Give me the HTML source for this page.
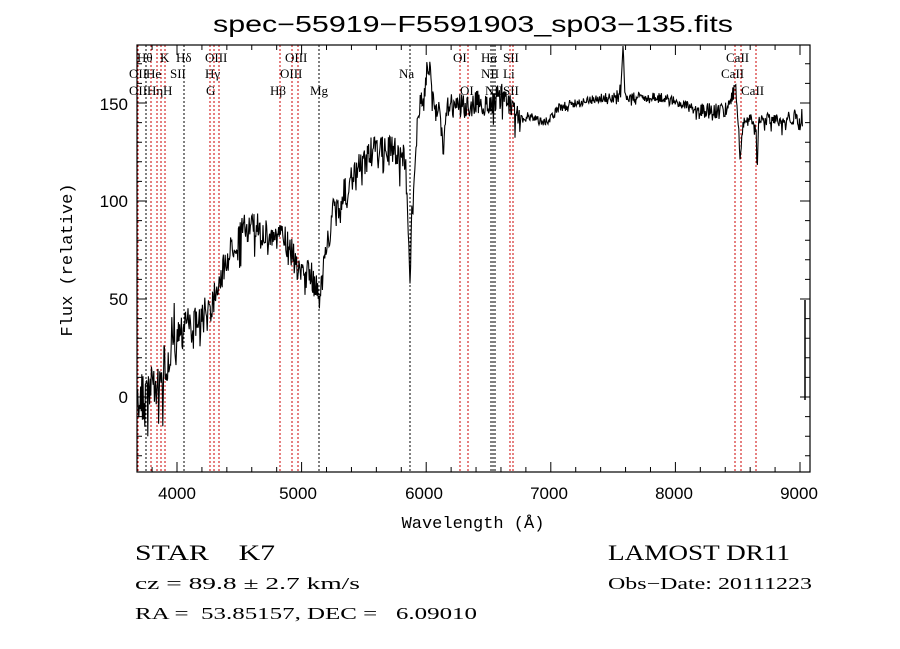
<!DOCTYPE html>
<html><head><meta charset="utf-8"><style>
html,body{margin:0;padding:0;background:#fff;width:900px;height:649px;overflow:hidden}
svg{display:block}
text{font-family:"Liberation Sans",sans-serif;fill:#000}
text.m{font-family:"Liberation Mono",monospace}
.l text{font-family:"Liberation Serif",serif;font-size:13px}
text.sf{font-family:"Liberation Serif",serif;white-space:pre}
</style></head><body>
<svg id="s" width="900" height="649" viewBox="0 0 900 649" xmlns="http://www.w3.org/2000/svg" xml:space="preserve">
<text x="473" y="32" font-size="23" text-anchor="middle" textLength="520" lengthAdjust="spacingAndGlyphs">spec−55919−F5591903_sp03−135.fits</text>
<g id="lines"></g>
<path id="spec" fill="none" stroke="#000" stroke-width="1.1"></path>
<path d="M805 300V400" stroke="#000" stroke-width="1.5"/>
<rect x="137" y="45" width="673" height="427" fill="none" stroke="#000" stroke-width="1.2"/>
<g id="ticks" stroke="#000" stroke-width="1"></g>
<g font-size="17" text-anchor="middle">
<text x="177" y="499">4000</text><text x="298" y="499">5000</text><text x="424" y="499">6000</text><text x="549" y="499">7000</text><text x="674" y="499">8000</text><text x="799" y="499">9000</text>
</g>
<g font-size="17" text-anchor="end">
<text x="128" y="403">0</text><text x="128" y="305">50</text><text x="128" y="207">100</text><text x="128" y="110">150</text>
</g>
<text class="m" x="473" y="528" font-size="17" text-anchor="middle">Wavelength (Å)</text>
<text class="m" x="72" y="260" font-size="17" text-anchor="middle" transform="rotate(-90 72 260)">Flux (relative)</text>
<g class="l">
<text x="137" y="62">Hθ</text><text x="160" y="62">K</text><text x="176" y="62">Hδ</text><text x="205" y="62">OIII</text><text x="285" y="62">OIII</text>
<text x="129" y="78">OII</text><text x="146" y="78">He</text><text x="170" y="78">SII</text><text x="205" y="78">Hγ</text><text x="280" y="78">OIII</text>
<text x="129" y="95">OII</text><text x="147" y="95">Hη</text><text x="163" y="95">H</text><text x="206" y="95">G</text><text x="270" y="95">Hβ</text><text x="310" y="95">Mg</text>
<text x="399" y="78">Na</text><text x="453" y="62">OI</text><text x="460" y="95">OI</text>
<text x="481" y="62">Hα</text><text x="503" y="62">SII</text><text x="481" y="78">NII</text><text x="503" y="78">Li</text><text x="485" y="95">NII</text><text x="503" y="95">SII</text>
<text x="726" y="62">CaII</text><text x="721" y="78">CaII</text><text x="741" y="95">CaII</text>
</g>
<text class="sf" x="135" y="560" font-size="22" textLength="140" lengthAdjust="spacingAndGlyphs">STAR    K7</text>
<text class="sf" x="608" y="560" font-size="22" textLength="182" lengthAdjust="spacingAndGlyphs">LAMOST DR11</text>
<text class="sf" x="135" y="589" font-size="17" textLength="225" lengthAdjust="spacingAndGlyphs">cz = 89.8 ± 2.7 km/s</text>
<text class="sf" x="608" y="589" font-size="17" textLength="204" lengthAdjust="spacingAndGlyphs">Obs−Date: 20111223</text>
<text class="sf" x="135" y="619" font-size="17" textLength="342" lengthAdjust="spacingAndGlyphs">RA =  53.85157, DEC =   6.09010</text>
</svg>
<script>
(function(){
var NS="http://www.w3.org/2000/svg";
function X(l){return 177+(l-4000)*0.1246;}
function Y(v){return 397-v*1.96;}
var t=document.getElementById("ticks"),d="";
for(var l=3800;l<=9000;l+=200){var x=X(l),maj=l%1000==0?10:5;if(x<137||x>810)continue;
d+="M"+x+" 472v-"+maj+"M"+x+" 45v"+maj;}
for(var v=-30;v<=180;v+=10){var y=Y(v),maj=v%50==0?10:5;if(y<45||y>472)continue;
d+="M137 "+y+"h"+maj+"M810 "+y+"h-"+maj;}
var p=document.createElementNS(NS,"path");p.setAttribute("d",d);t.appendChild(p);
var g=document.getElementById("lines");
var L=[[138,1],[146,0],[151,1],[157,1],[161,1],[165,1],[184,0],[210,1],[214,1],[219,1],[280,1],[292,1],[298,1],[319,0],[410,0],[460,1],[468,1],[491,0],[493,0],[495,0],[510,1],[513,1],[735,1],[741,1],[756,1]];
L.forEach(function(a){var q=document.createElementNS(NS,"line");q.setAttribute("x1",a[0]);q.setAttribute("x2",a[0]);q.setAttribute("y1",45);q.setAttribute("y2",472);
q.setAttribute("stroke",a[1]?"#c00":"#000");q.setAttribute("stroke-width","1");q.setAttribute("stroke-dasharray","2,2");g.appendChild(q);});
var K=[[137,420],[150,400],[165,385],[172,345],[185,330],[200,330],[212,305],[222,280],[232,255],[245,235],[258,235],[270,245],[285,245],[298,275],[312,285],[319,300],[323,280],[333,220],[345,200],[358,178],[370,160],[395,158],[405,165],[408,220],[410,290],[412,215],[418,120],[424,105],[428,70],[432,95],[438,115],[443,150],[446,110],[455,115],[470,110],[490,110],[505,100],[515,118],[530,120],[545,125],[560,110],[580,105],[600,100],[615,100],[621,90],[623,45],[625,100],[640,100],[660,100],[680,105],[700,115],[720,115],[730,110],[735,85],[738,120],[740,170],[743,125],[750,125],[756,130],[757,170],[759,125],[770,125],[785,122],[797,120],[800,130],[802,115],[803,110]];
var s=7;function r(){s=(s*16807)%2147483647;return s/2147483647-0.5;}
function base(x){for(var i=0;i<K.length-1;i++){if(x>=K[i][0]&&x<=K[i+1][0]){var f=(x-K[i][0])/(K[i+1][0]-K[i][0]);return K[i][1]+f*(K[i+1][1]-K[i][1]);}}return 120;}
var pd="";
for(var x=137;x<=803;x+=0.6){var amp=x<175?55:x<330?30:x<410?30:x<520?26:x<700?10:16;
var y=base(x)-amp*0.25+r()*amp;if(r()>0.35)y+=Math.abs(r())*amp*1.4;
if(y>471)y=471;if(y<46)y=46;pd+=(pd?"L":"M")+x.toFixed(1)+" "+y.toFixed(1);}
document.getElementById("spec").setAttribute("d",pd);
})();
</script>
</body></html>
